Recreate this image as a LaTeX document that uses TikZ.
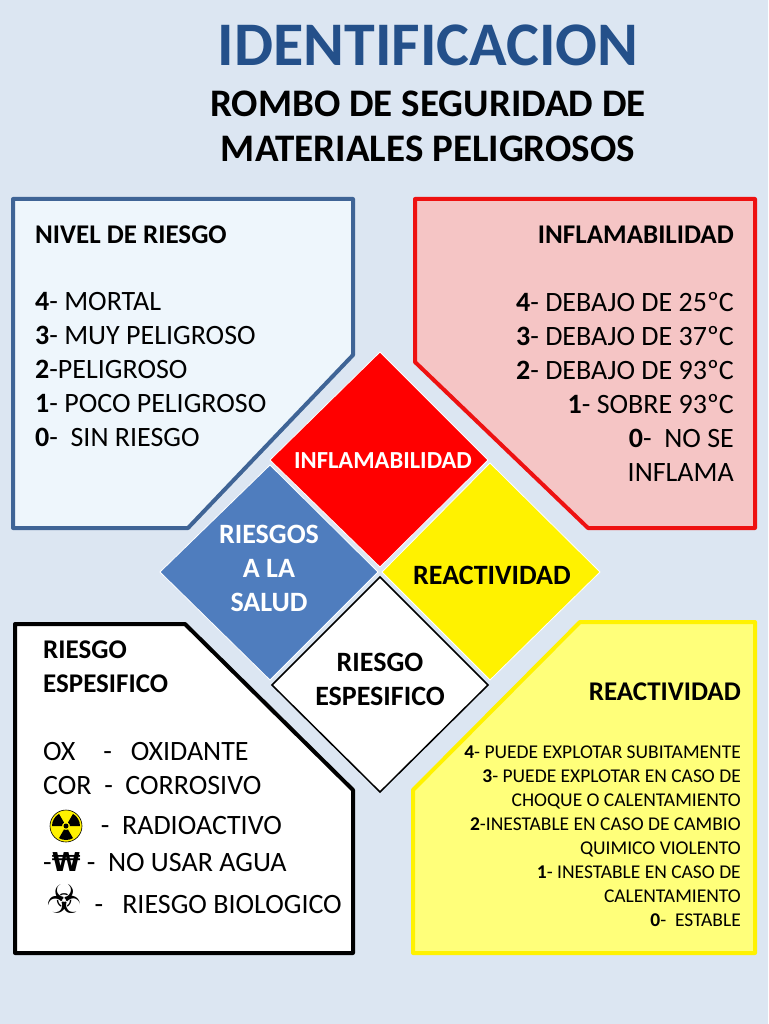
\documentclass[tikz,border=0pt]{standalone}
\usepackage{fontspec}
\setmainfont{Carlito}
\newfontfamily\dv{DejaVu Sans}
\definecolor{bg}{HTML}{DCE6F2}
\definecolor{tblue}{HTML}{24508A}
\definecolor{bborder}{HTML}{3F6496}
\definecolor{bfill}{HTML}{EEF6FC}
\definecolor{rborder}{HTML}{EE1111}
\definecolor{rfill}{HTML}{F5C5C5}
\definecolor{yborder}{HTML}{FFF200}
\definecolor{yfill}{HTML}{FFFF7A}
\definecolor{dblue}{HTML}{4F7DBE}
\begin{document}
\begin{tikzpicture}[x=1pt,y=-1pt,
  txt/.style={font=\fontsize{28}{34}\selectfont,inner sep=0,align=left},
  dtxt/.style={font=\bfseries\fontsize{28}{34}\selectfont,align=center,inner sep=0}]
\useasboundingbox (0,0) rectangle (768,1024);
\fill[bg] (0,0) rectangle (768,1024);
\node[font=\bfseries\fontsize{62}{70}\selectfont,text=tblue] (t1) at (428,45) {IDENTIFICACION};
\node[font=\bfseries\fontsize{39}{45}\selectfont,align=center] (t2) at (428,126) {ROMBO DE SEGURIDAD DE\\ MATERIALES PELIGROSOS};
% boxes
\draw[line width=4pt,bborder,fill=bfill,line join=round] (13,199) -- (353,199) -- (353,355) -- (188,528) -- (13,528) -- cycle;
\draw[line width=4pt,rborder,fill=rfill,line join=round] (415,199) -- (755,199) -- (755,528) -- (588,528) -- (415,362) -- cycle;
\draw[line width=4pt,black,fill=white,line join=round] (15,624) -- (185,624) -- (353,790) -- (353,953) -- (15,953) -- cycle;
\draw[line width=4pt,yborder,fill=yfill,line join=round] (580,622) -- (755,622) -- (755,953) -- (413,953) -- (413,790) -- cycle;
% diamonds
\draw[white,thick,fill=red] (380,352) -- (488,460) -- (380,567) -- (270,460) -- cycle;
\draw[white,thick,fill=dblue] (270,465) -- (378,572) -- (270,680) -- (160,572) -- cycle;
\draw[white,thick,fill=yellow] (490,463) -- (600,572) -- (490,680) -- (382,572) -- cycle;
\draw[black,line width=1.5pt,fill=white] (380,577) -- (488,685) -- (380,792) -- (272,685) -- cycle;
\node[font=\bfseries\fontsize{24.5}{28}\selectfont,text=white] (d1) at (383,461) {INFLAMABILIDAD};
\node[dtxt,text=white] (d2) at (269,568) {RIESGOS\\A LA\\SALUD};
\node[dtxt] (d3) at (492,575) {REACTIVIDAD};
\node[dtxt] (d4) at (380,679) {RIESGO\\ESPESIFICO};
% top-left text
\node[txt,anchor=north west,font=\bfseries\fontsize{27}{34}\selectfont] (a0) at (35,226) {NIVEL DE RIESGO};
\node[txt,anchor=north west,font=\fontsize{28}{34}\selectfont] (a1) at (35,292) {\textbf{4}- MORTAL\\\textbf{3}- MUY PELIGROSO\\\textbf{2}-PELIGROSO\\\textbf{1}- POCO PELIGROSO\\\textbf{0}-\ \ SIN RIESGO};
% top-right
\node[txt,anchor=north east,font=\bfseries\fontsize{27}{34}\selectfont] (b0) at (734,226) {INFLAMABILIDAD};
\node[txt,anchor=north east,align=right,font=\fontsize{28}{34}\selectfont] (b1) at (734,292) {\textbf{4}- DEBAJO DE 25ºC\\\textbf{3}- DEBAJO DE 37ºC\\\textbf{2}- DEBAJO DE 93ºC\\\textbf{1}- SOBRE 93ºC\\\textbf{0}-\ \ NO SE\\INFLAMA};
% bottom-left
\node[txt,anchor=north west,font=\bfseries\fontsize{27}{34}\selectfont] (c0) at (43,641) {RIESGO\\ESPESIFICO};
\node[txt,anchor=north west,font=\fontsize{28}{34}\selectfont] (c1) at (43,742) {OX\quad -\ \ \ OXIDANTE\\COR\ \ -\ \ CORROSIVO};
\node[txt,anchor=west] (c2) at (88,826) {\ \ -\ \ RADIOACTIVO};
\node[txt,anchor=west] (c3) at (43,862) {-{\dv\bfseries\fontsize{26}{30}\selectfont ₩}\ -\ \ NO USAR AGUA};
\node[txt,anchor=west] (c4) at (46,899) {{\dv\fontsize{40}{40}\selectfont ☣}\ \ -\ \ \ RIESGO BIOLOGICO};
% radioactive icon
\coordinate (rc) at (66,826);
\fill[yellow] (rc) circle (16);
\draw[black,line width=0.6pt] (rc) circle (16);
\foreach \a in {90,210,330}{
  \fill[black] (rc) ++(\a-30:4) arc (\a-30:\a+30:4) -- ++(\a+30:10) arc (\a+30:\a-30:14) -- cycle;}
\fill[black] (rc) circle (2.5);
% bottom-right
\node[txt,anchor=north east,font=\bfseries\fontsize{27}{34}\selectfont] (e0) at (741,683) {REACTIVIDAD};
\node[anchor=north east,align=right,inner sep=0,font=\fontsize{19.5}{24}\selectfont] (e1) at (741,746) {\textbf{4}- PUEDE EXPLOTAR SUBITAMENTE\\\textbf{3}- PUEDE EXPLOTAR EN CASO DE\\CHOQUE O CALENTAMIENTO\\\textbf{2}-INESTABLE EN CASO DE CAMBIO\\QUIMICO VIOLENTO\\\textbf{1}- INESTABLE EN CASO DE\\CALENTAMIENTO\\\textbf{0}-\ \ ESTABLE};
\end{tikzpicture}
\end{document}
